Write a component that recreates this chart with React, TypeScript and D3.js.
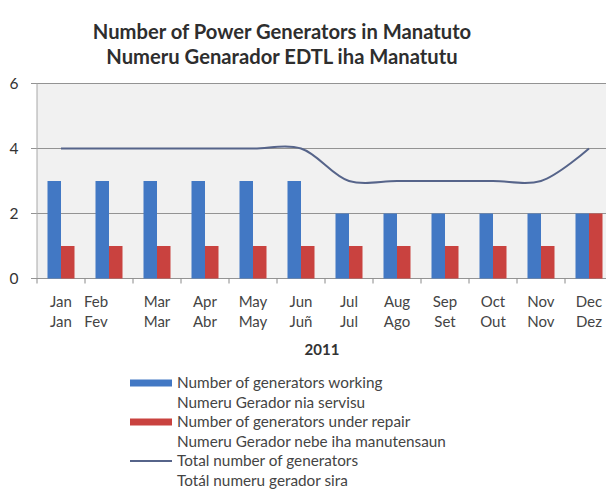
import React from "react";
import * as d3 from "d3";

const monthsEn = ["Jan", "Feb", "Mar", "Apr", "May", "Jun", "Jul", "Aug", "Sep", "Oct", "Nov", "Dec"];
const monthsTet = ["Jan", "Fev", "Mar", "Abr", "May", "Juñ", "Jul", "Ago", "Set", "Out", "Nov", "Dez"];
const working = [3, 3, 3, 3, 3, 3, 2, 2, 2, 2, 2, 2];
const underRepair = [1, 1, 1, 1, 1, 1, 1, 1, 1, 1, 1, 2];
const total = [4, 4, 4, 4, 4, 4, 3, 3, 3, 3, 3, 4];
const yTicks = [0, 2, 4, 6];
const titleLines = ["Number of Power Generators in Manatuto", "Numeru Genarador EDTL iha Manatutu"];
const xAxisTitle = "2011";
const legendItems = [
  { kind: "bar", color: "#4278c4", lines: ["Number of generators working", "Numeru Gerador nia servisu"] },
  { kind: "bar", color: "#c9423f", lines: ["Number of generators under repair", "Numeru Gerador nebe iha manutensaun"] },
  { kind: "line", color: "#56648a", lines: ["Total number of generators", "Totál numeru gerador sira"] },
];

export default function App() {
  const W = 606, H = 490;
  const left = 37, right = 613, top = 83.5, bottom = 278.5;
  const font = "Lato, 'Open Sans', sans-serif";
  const x = d3.scaleBand<string>().domain(monthsEn).range([left, right]).paddingInner(0).paddingOuter(0);
  const y = d3.scaleLinear().domain([0, 6]).range([bottom, top]);
  const barW = 13.5;
  const line = d3
    .line<number>()
    .x((_, i) => (x(monthsEn[i]) as number) + x.bandwidth() / 2)
    .y((d) => y(d))
    .curve(d3.curveCatmullRom.alpha(0.5));

  return (
    <svg width={W} height={H} style={{ display: "block", position: "absolute", left: 0, top: 0, background: "#fff" }}>
      {titleLines.map((t, i) => (
        <text key={i} x={282} y={39 + i * 25} textAnchor="middle" fontFamily={font} fontWeight="bold" fontSize={20.2} fill="#2e2e2e">
          {t}
        </text>
      ))}
      <rect x={left} y={top} width={right - left} height={bottom - top} fill="#f1f1f1" />
      {yTicks.map((t) => (
        <g key={t}>
          <line x1={left - 6} x2={right} y1={y(t)} y2={y(t)} stroke="#939393" strokeWidth={1} />
          <text x={14} y={y(t)} dy="0.35em" textAnchor="middle" fontFamily={font} fontSize={15.5} fill="#333">
            {t}
          </text>
        </g>
      ))}
      <line x1={left} x2={left} y1={top} y2={bottom} stroke="#a8a8a8" strokeWidth={1} />
      {monthsEn.map((m, i) => (
        <line key={"tk" + i} x1={x(m) as number} x2={x(m) as number} y1={bottom} y2={bottom + 5} stroke="#8a8a8a" />
      ))}
      {monthsEn.map((m, i) => {
        const cx = (x(m) as number) + x.bandwidth() / 2;
        return (
          <g key={"b" + i}>
            <rect x={cx - barW} y={y(working[i])} width={barW} height={bottom - y(working[i])} fill="#4278c4" />
            <rect x={cx} y={y(underRepair[i])} width={barW} height={bottom - y(underRepair[i])} fill="#c9423f" />
          </g>
        );
      })}
      <path d={line(total) || ""} fill="none" stroke="#56648a" strokeWidth={2} />
      {monthsEn.map((m, i) => {
        // Excel nudged the crowded second label left
        const cx = (x(m) as number) + x.bandwidth() / 2 - (i === 1 ? 13 : 0);
        return (
          <g key={"l" + i} fontFamily={font} fontSize={15} fill="#444">
            <text x={cx} y={302} dy="0.35em" textAnchor="middle">{m}</text>
            <text x={cx} y={322} dy="0.35em" textAnchor="middle">{monthsTet[i]}</text>
          </g>
        );
      })}
      <text x={322} y={350} dy="0.35em" textAnchor="middle" fontFamily={font} fontWeight="bold" fontSize={15} fill="#333">
        {xAxisTitle}
      </text>
      {legendItems.map((it, i) => {
        const y0 = 383 + i * 39;
        return (
          <g key={"lg" + i} fontFamily={font} fontSize={15.3} fill="#444">
            {it.kind === "bar" ? (
              <rect x={130} y={y0 - 3.5} width={42} height={7} fill={it.color} />
            ) : (
              <line x1={130} x2={172} y1={y0} y2={y0} stroke={it.color} strokeWidth={2} />
            )}
            <text x={177} y={y0} dy="0.35em">{it.lines[0]}</text>
            <text x={177} y={y0 + 19.5} dy="0.35em">{it.lines[1]}</text>
          </g>
        );
      })}
    </svg>
  );
}
